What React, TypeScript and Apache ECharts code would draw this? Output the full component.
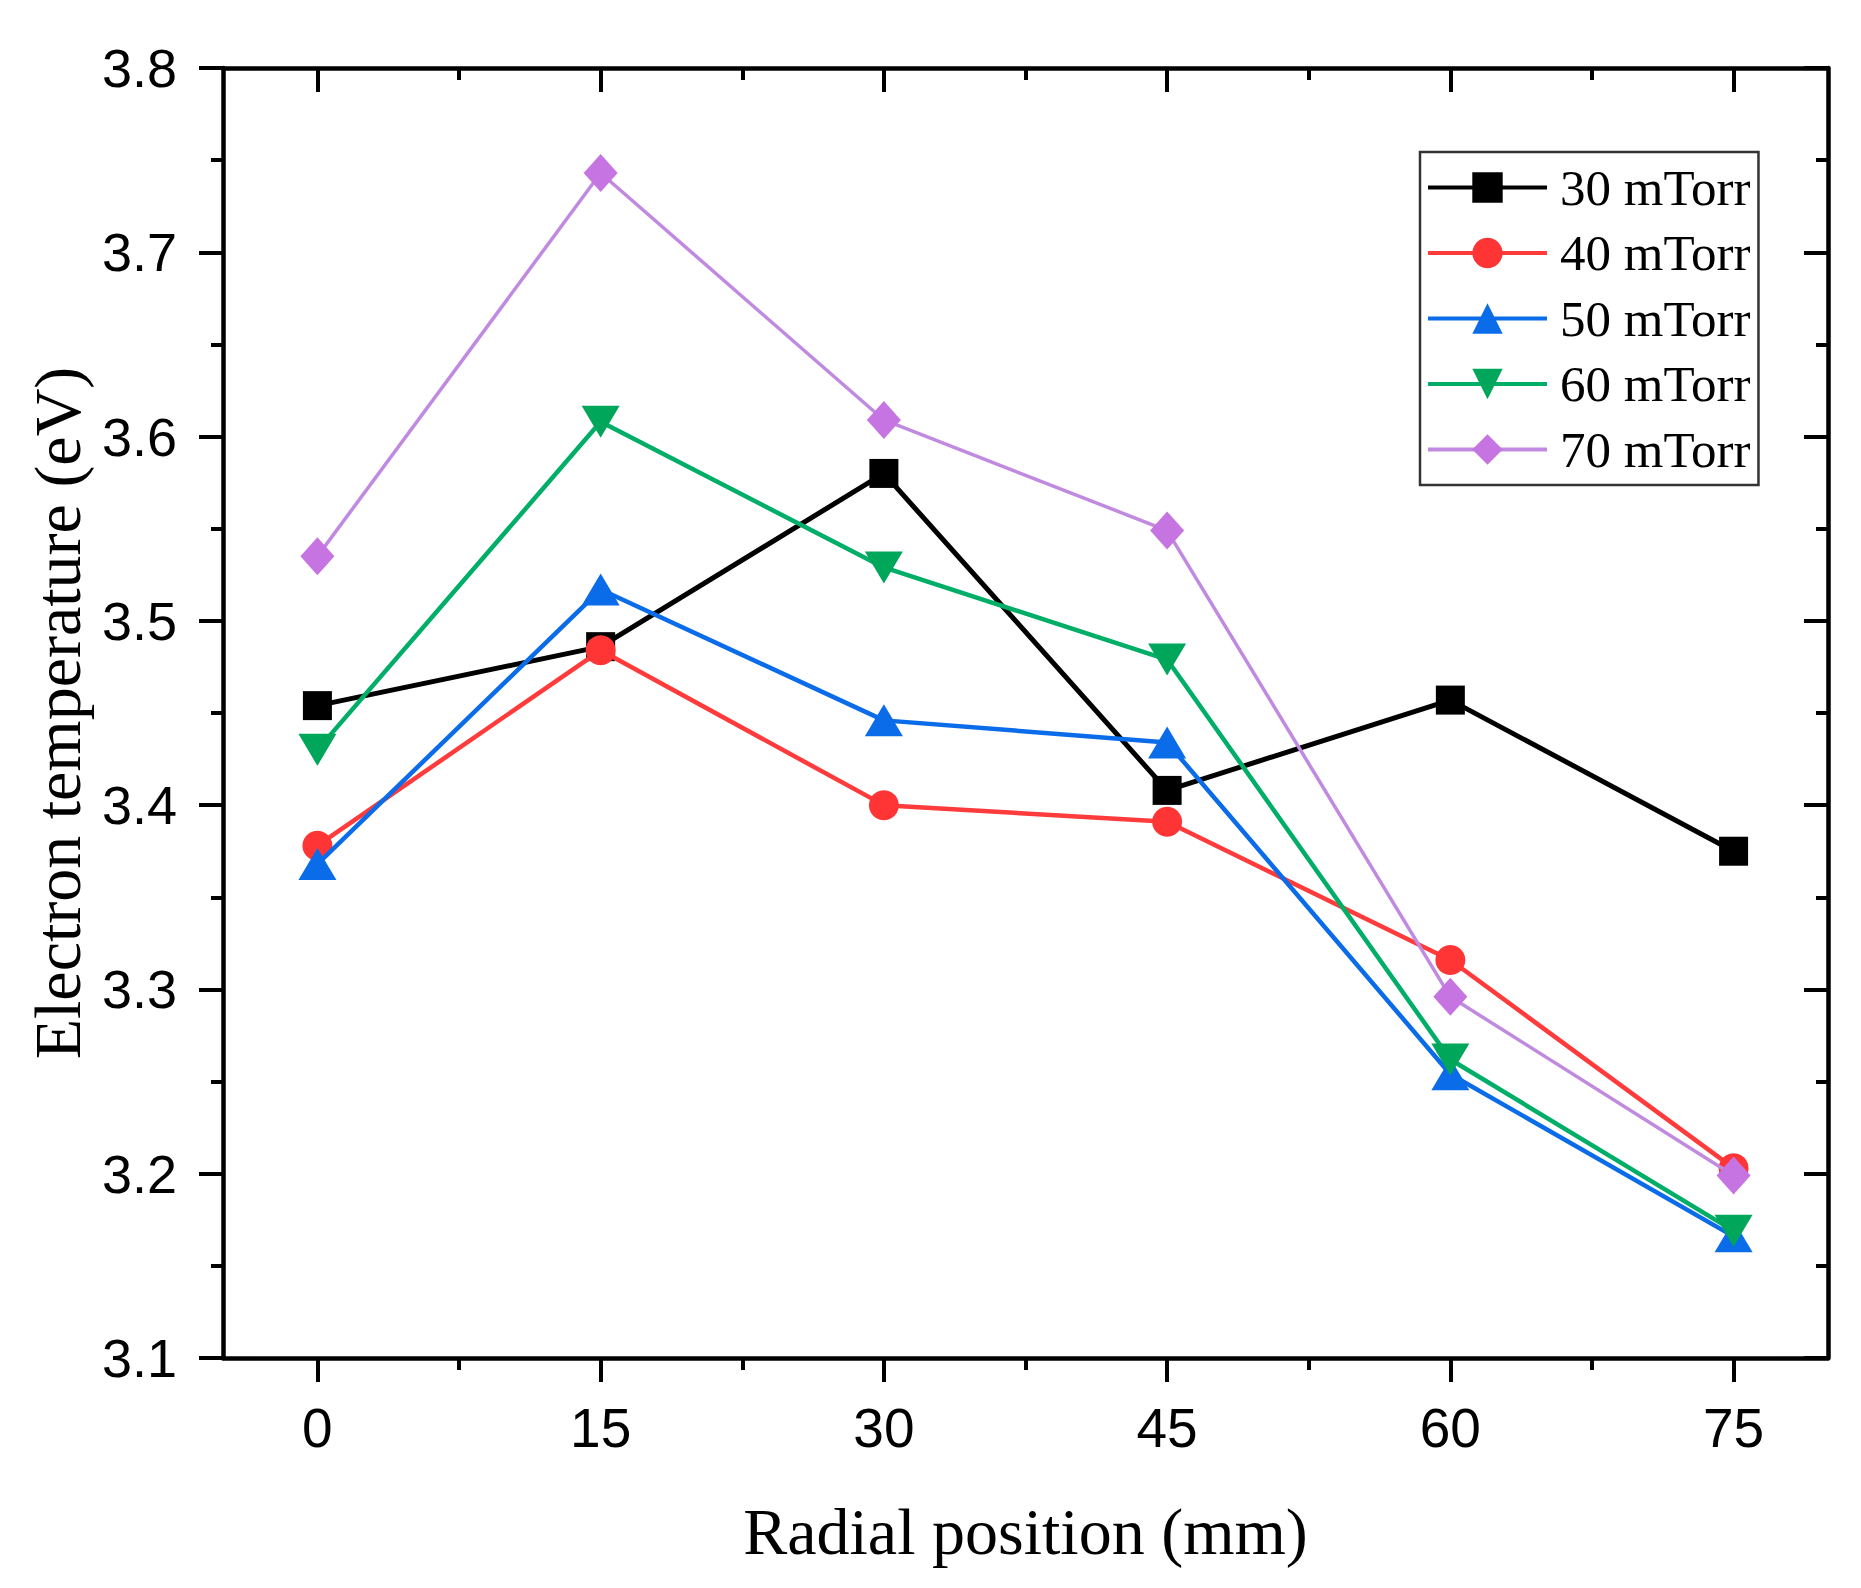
import React, { useEffect, useRef } from "react";
import * as echarts from "echarts";

const positions = [0, 15, 30, 45, 60, 75];
const seriesNames = ["30 mTorr", "40 mTorr", "50 mTorr", "60 mTorr", "70 mTorr"];
const t30 = [3.454, 3.486, 3.580, 3.408, 3.457, 3.375];
const t40 = [3.378, 3.484, 3.400, 3.391, 3.316, 3.203];
const t50 = [3.368, 3.517, 3.446, 3.434, 3.254, 3.166];
const t60 = [3.430, 3.608, 3.529, 3.479, 3.262, 3.169];
const t70 = [3.535, 3.743, 3.609, 3.549, 3.296, 3.199];
const xMajorTicks = [0, 15, 30, 45, 60, 75];
const xMinorTicks = [7.5, 22.5, 37.5, 52.5, 67.5];

const colors = ["#000000", "#FF3535", "#0A6CE8", "#00A65A", "#C674E2"];
const lineColors = ["#000000", "#FF3B3B", "#0A6CE8", "#00AE68", "#C08AE0"];
const symbols = ["rect", "circle", "triangle", "triangle", "diamond"];
const symbolSizes: any[] = [29, 30, [38, 32], [38, 32], [34, 38]];
const symbolRotates = [0, 0, 0, 180, 0];
const lineWidths = [5, 4.5, 4.5, 4.5, 3.5];

const allData = [t30, t40, t50, t60, t70];

export default function App() {
  const ref = useRef<HTMLDivElement>(null);
  useEffect(() => {
    document.body.style.margin = "0";
    if (!ref.current) return;
    const chart = echarts.init(ref.current, null, { renderer: "svg" });
    const axisLine = { show: true, onZero: false, lineStyle: { color: "#000", width: 4.5 } };
    const tickStyle = { color: "#000", width: 4 };
    const xBase = { type: "value", min: -5, max: 80, gridIndex: 0, splitLine: { show: false } };
    const series = allData.map((vals, i) => ({
      name: seriesNames[i],
      type: "line",
      xAxisIndex: 0,
      yAxisIndex: 0,
      data: positions.map((p, j) => [p, vals[j]]),
      symbol: symbols[i],
      symbolSize: symbolSizes[i],
      symbolRotate: symbolRotates[i],
      showAllSymbol: true,
      lineStyle: { color: lineColors[i], width: lineWidths[i] },
      itemStyle: { color: colors[i], opacity: 1 },
      emphasis: { disabled: true },
      z: 2 + i,
    }));
    chart.setOption({
      animation: false,
      backgroundColor: "#fff",
      grid: { left: 223, top: 68, right: 33, bottom: 230, containLabel: false },
      xAxis: [
        {
          ...xBase,
          position: "bottom",
          axisLine,
          axisTick: { show: true, inside: false, length: 24, customValues: xMajorTicks, lineStyle: tickStyle },
          axisLabel: {
            show: true,
            customValues: xMajorTicks,
            margin: 42,
            fontSize: 55,
            fontFamily: "Liberation Sans",
            color: "#000",
          },
          name: "Radial position (mm)",
          nameLocation: "middle",
          nameGap: 140,
          nameTextStyle: { fontSize: 66, fontFamily: "Liberation Serif", color: "#000" },
        },
        {
          ...xBase,
          position: "bottom",
          axisLine: { show: false, onZero: false },
          axisTick: { show: true, inside: false, length: 12, customValues: xMinorTicks, lineStyle: tickStyle },
          axisLabel: { show: false },
        },
        {
          ...xBase,
          position: "top",
          axisLine,
          axisTick: { show: true, inside: true, length: 24, customValues: xMajorTicks, lineStyle: tickStyle },
          axisLabel: { show: false },
        },
        {
          ...xBase,
          position: "top",
          axisLine: { show: false, onZero: false },
          axisTick: { show: true, inside: true, length: 12, customValues: xMinorTicks, lineStyle: tickStyle },
          axisLabel: { show: false },
        },
      ],
      yAxis: [
        {
          type: "value",
          min: 3.1,
          max: 3.8,
          interval: 0.1,
          position: "left",
          axisLine,
          splitLine: { show: false },
          axisTick: { show: true, inside: false, length: 24, lineStyle: tickStyle },
          minorTick: { show: true, splitNumber: 2, length: 12, lineStyle: tickStyle },
          axisLabel: {
            margin: 46,
            fontSize: 54,
            fontFamily: "Liberation Sans",
            color: "#000",
            formatter: (v: number) => v.toFixed(1),
          },
          name: "Electron temperature (eV)",
          nameLocation: "middle",
          nameGap: 133,
          nameTextStyle: { fontSize: 66, fontFamily: "Liberation Serif", color: "#000" },
        },
        {
          type: "value",
          min: 3.1,
          max: 3.8,
          interval: 0.1,
          position: "right",
          axisLine,
          splitLine: { show: false },
          axisTick: { show: true, inside: true, length: 24, lineStyle: tickStyle },
          minorTick: { show: true, splitNumber: 2, length: 12, lineStyle: tickStyle },
          axisLabel: { show: false },
        },
      ],
      legend: {
        orient: "vertical",
        left: 1420,
        top: 152,
        padding: [10, 8, 10, 6],
        itemWidth: 119,
        itemHeight: 38,
        itemGap: 14.5,
        backgroundColor: "#fff",
        borderColor: "#333",
        borderWidth: 2.5,
        borderRadius: 0,
        data: seriesNames,
        lineStyle: { width: 4 },
        textStyle: {
          fontSize: 51,
          lineHeight: 50,
          fontFamily: "Liberation Serif",
          color: "#000",
          padding: [0, 0, 0, 8],
        },
      },
      series,
    });
    return () => chart.dispose();
  }, []);
  return <div ref={ref} style={{ width: 1861, height: 1588 }} />;
}
